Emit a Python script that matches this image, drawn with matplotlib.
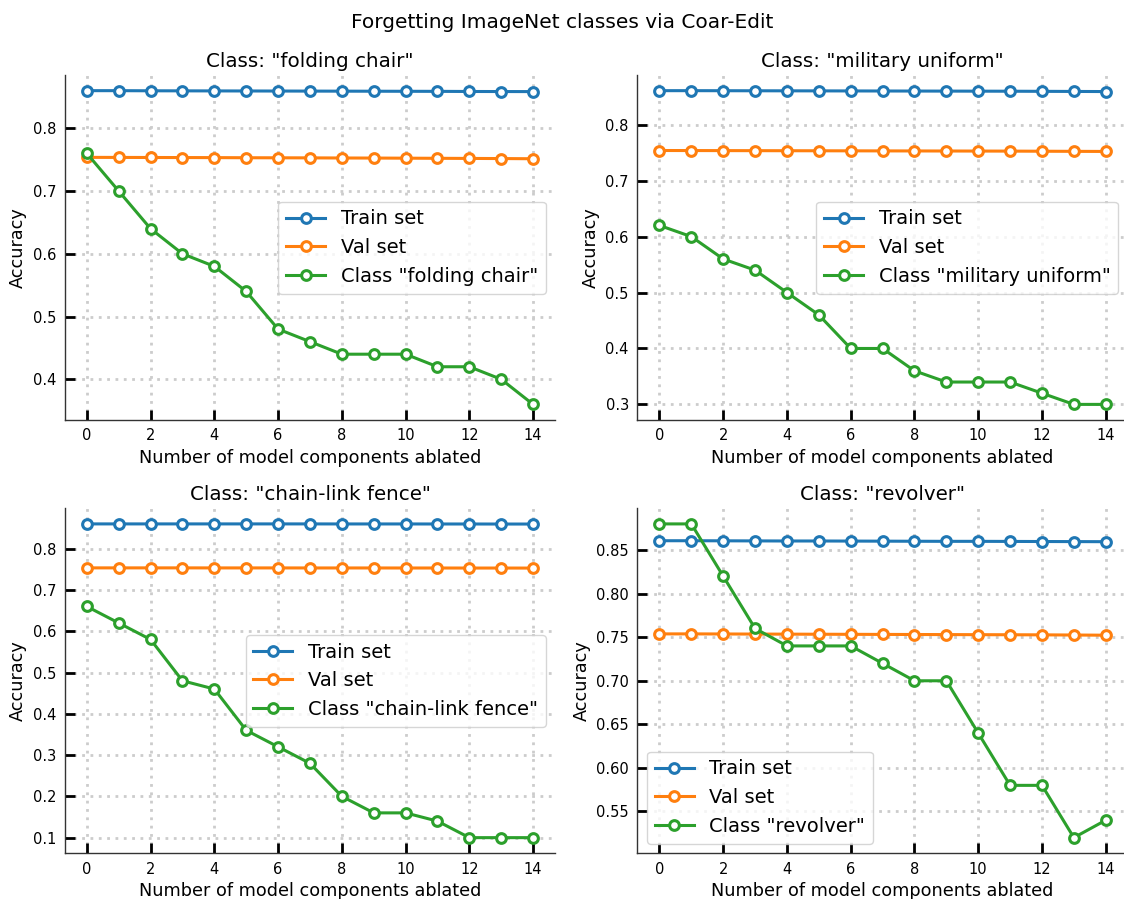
import numpy as np
import matplotlib.pyplot as plt

# number of ablated components on the x axis
n_ablated = list(range(15))

class_names = ["folding chair", "military uniform", "chain-link fence", "revolver"]

train_chair = [0.860, 0.860, 0.8598, 0.8597, 0.8596, 0.8595, 0.8594, 0.8593, 0.8592,
               0.8591, 0.859, 0.8589, 0.8587, 0.8586, 0.8585]
val_chair = [0.7537, 0.7536, 0.7535, 0.7534, 0.7533, 0.7531, 0.753, 0.7529, 0.7527,
             0.7526, 0.7524, 0.7522, 0.752, 0.7518, 0.7515]
cls_chair = [0.76, 0.70, 0.64, 0.60, 0.58, 0.54, 0.48, 0.46, 0.44, 0.44, 0.44, 0.42,
             0.42, 0.40, 0.36]

train_uniform = [0.861, 0.861, 0.8609, 0.8608, 0.8607, 0.8606, 0.8605, 0.8604, 0.8603,
                 0.8602, 0.8601, 0.86, 0.8598, 0.8596, 0.8594]
val_uniform = [0.754, 0.7539, 0.7538, 0.7537, 0.7536, 0.7535, 0.7534, 0.7533, 0.7532,
               0.7531, 0.753, 0.7529, 0.7527, 0.7525, 0.7523]
cls_uniform = [0.62, 0.60, 0.56, 0.54, 0.50, 0.46, 0.40, 0.40, 0.36, 0.34, 0.34, 0.34,
               0.32, 0.30, 0.30]

train_fence = [0.860, 0.860, 0.860, 0.860, 0.860, 0.860, 0.860, 0.860, 0.8599,
               0.8599, 0.8599, 0.8598, 0.8598, 0.8597, 0.8597]
val_fence = [0.7535, 0.7535, 0.7535, 0.7535, 0.7534, 0.7534, 0.7534, 0.7533, 0.7533,
             0.7533, 0.7532, 0.7532, 0.7531, 0.7531, 0.753]
cls_fence = [0.66, 0.62, 0.58, 0.48, 0.46, 0.36, 0.32, 0.28, 0.20, 0.16, 0.16, 0.14,
             0.10, 0.10, 0.10]

train_revolver = [0.8607, 0.8607, 0.8606, 0.8605, 0.8604, 0.8604, 0.8603, 0.8602, 0.8601,
                  0.86, 0.86, 0.8599, 0.8598, 0.8597, 0.8596]
val_revolver = [0.7538, 0.7538, 0.7537, 0.7536, 0.7535, 0.7534, 0.7533, 0.7532, 0.7531,
                0.753, 0.7529, 0.7528, 0.7527, 0.7525, 0.7523]
cls_revolver = [0.88, 0.88, 0.82, 0.76, 0.74, 0.74, 0.74, 0.72, 0.70, 0.70, 0.64, 0.58,
                0.58, 0.52, 0.54]

results = [
    (train_chair, val_chair, cls_chair, "center right"),
    (train_uniform, val_uniform, cls_uniform, "center right"),
    (train_fence, val_fence, cls_fence, "center right"),
    (train_revolver, val_revolver, cls_revolver, "lower left"),
]

plt.rcParams["font.family"] = "DejaVu Sans"

fig, axes = plt.subplots(2, 2, figsize=(11.24, 8.99), dpi=100)
fig.subplots_adjust(left=0.0574, right=1.0036, top=0.9166, bottom=0.0508,
                    wspace=0.1665, hspace=0.2554)

line_kw = dict(marker="o", lw=2.2, markersize=7, markeredgewidth=2.2,
               markerfacecolor="white")

for ax, name, (tr, va, cl, loc) in zip(axes.flat, class_names, results):
    ax.plot(n_ablated, tr, color="tab:blue", label="Train set", **line_kw)
    ax.plot(n_ablated, va, color="tab:orange", label="Val set", **line_kw)
    ax.plot(n_ablated, cl, color="tab:green", label=f'Class "{name}"', **line_kw)
    ax.set_title(f'Class: "{name}"', fontsize=14.3)
    ax.set_xlabel("Number of model components ablated", fontsize=12.7)
    ax.set_ylabel("Accuracy", fontsize=12.7)
    ax.grid(True, color="#cccccc", lw=2, linestyle=(0, (1, 2)))
    ax.set_axisbelow(True)
    for s in ["top", "right"]:
        ax.spines[s].set_visible(False)
    for s in ["left", "bottom"]:
        ax.spines[s].set_color("#333333")
        ax.spines[s].set_linewidth(1.0)
    ax.tick_params(direction="in", length=7, width=2, labelsize=10.5, pad=6)
    ax.legend(loc=loc, fontsize=14)

fig.suptitle("Forgetting ImageNet classes via Coar-Edit", fontsize=14.5, y=0.985)

plt.savefig("out.png")
plt.close()
